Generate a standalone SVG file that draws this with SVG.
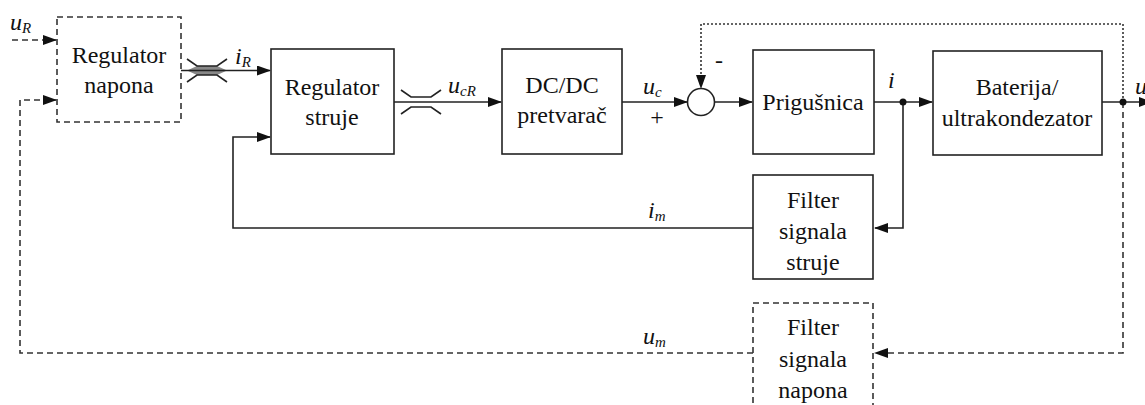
<svg xmlns="http://www.w3.org/2000/svg" width="1145" height="405" viewBox="0 0 1145 405">
<style>
.box{fill:#fff;stroke:#222;stroke-width:1.6}
.dbox{fill:#fff;stroke:#333;stroke-width:1.6;stroke-dasharray:6 4}
.t{font-family:"Liberation Serif","Times New Roman",serif;font-size:24px;fill:#111;text-anchor:middle}
.l{font-family:"Liberation Serif","Times New Roman",serif;font-size:24px;font-style:italic;fill:#111}
.s{font-size:15px}
.ln{fill:none;stroke:#222;stroke-width:1.6}
.dl{fill:none;stroke:#333;stroke-width:1.6;stroke-dasharray:6 4}
.dt{fill:none;stroke:#333;stroke-width:1.6;stroke-dasharray:2 2}
</style>
<defs>
<marker id="ah" markerWidth="14" markerHeight="10" refX="13" refY="5" orient="auto" markerUnits="userSpaceOnUse">
<path d="M0,0 L14,5 L0,10 Z" fill="#111"/>
</marker>
</defs>
<g id="connectors">
<path class="dl" d="M12,40 L56,40" marker-end="url(#ah)"/>
<path class="dl" d="M753,353 L20,353 L20,100 L56,100" marker-end="url(#ah)"/>
<path d="M197,66 L217,66 L227,70.5 L217,75 L197,75 L187,70.5 Z" fill="#888"/>
<path class="ln" d="M181,70.5 L270,70.5" marker-end="url(#ah)"/>
<path class="ln" d="M187,59 L197,66 L217,66 L227,59 M187,82 L197,75 L217,75 L227,82" stroke="#444"/>
<path class="ln" d="M753,228 L233,228 L233,137 L270,137" marker-end="url(#ah)"/>
<path class="ln" d="M394,102 L501,102" marker-end="url(#ah)"/>
<path class="ln" d="M401,90 L411,97 L431,97 L441,90 M401,114 L411,107 L431,107 L441,114" stroke="#444"/>
<path class="ln" d="M622,102 L687,102" marker-end="url(#ah)"/>
<path class="ln" d="M715,102 L752,102" marker-end="url(#ah)"/>
<path class="ln" d="M874,102 L932,102" marker-end="url(#ah)"/>
<path class="ln" d="M903,102 L903,228 L875,228" marker-end="url(#ah)"/>
<path class="ln" d="M1102,102 L1152,102" marker-end="url(#ah)"/>
<path class="dt" d="M1123,102 L1123,24 L701,24 L701,88" marker-end="url(#ah)"/>
<path class="dl" d="M1123,102 L1123,353 L875,353" marker-end="url(#ah)"/>
<circle cx="903" cy="102" r="3.5" fill="#111"/>
<circle cx="1123" cy="102" r="3.5" fill="#111"/>
</g>
<g id="regulator-napona">
<rect class="dbox" x="57" y="17" width="124" height="105"/>
<text class="t" x="119" y="63">Regulator</text>
<text class="t" x="119" y="93">napona</text>
</g>
<g id="regulator-struje">
<rect class="box" x="271" y="49" width="123" height="105"/>
<text class="t" x="332" y="95">Regulator</text>
<text class="t" x="332" y="125">struje</text>
</g>
<g id="dcdc">
<rect class="box" x="502" y="49" width="120" height="105"/>
<text class="t" x="562" y="93">DC/DC</text>
<text class="t" x="562" y="123">pretvarač</text>
</g>
<g id="sum">
<circle cx="701" cy="102" r="13.5" fill="#fff" stroke="#222" stroke-width="1.6"/>
</g>
<g id="prigusnica">
<rect class="box" x="753" y="50" width="121" height="104"/>
<text class="t" x="813" y="110">Prigušnica</text>
</g>
<g id="baterija">
<rect class="box" x="933" y="51" width="169" height="104"/>
<text class="t" x="1017" y="95">Baterija/</text>
<text class="t" x="1017" y="126">ultrakondezator</text>
</g>
<g id="filter-struje">
<rect class="box" x="753" y="175" width="120" height="104"/>
<text class="t" x="813" y="208">Filter</text>
<text class="t" x="813" y="239">signala</text>
<text class="t" x="813" y="270">struje</text>
</g>
<g id="filter-napona">
<rect class="dbox" x="753" y="303" width="120" height="110"/>
<text class="t" x="813" y="335">Filter</text>
<text class="t" x="813" y="367">signala</text>
<text class="t" x="813" y="398">napona</text>
</g>
<g id="labels">
<text class="l" x="10" y="30">u<tspan class="s" dy="3">R</tspan></text>
<text class="l" x="235" y="64">i<tspan class="s" dy="3">R</tspan></text>
<text class="l" x="448" y="93">u<tspan class="s" dy="3">cR</tspan></text>
<text class="l" x="643" y="94">u<tspan class="s" dy="3">c</tspan></text>
<text class="l" x="888" y="88">i</text>
<text class="l" x="1135" y="94">u</text>
<text class="l" x="648" y="218">i<tspan class="s" dy="3">m</tspan></text>
<text class="l" x="643" y="344">u<tspan class="s" dy="3">m</tspan></text>
<text class="t" x="657" y="125">+</text>
<text class="t" x="719" y="68">-</text>
</g>
</svg>
